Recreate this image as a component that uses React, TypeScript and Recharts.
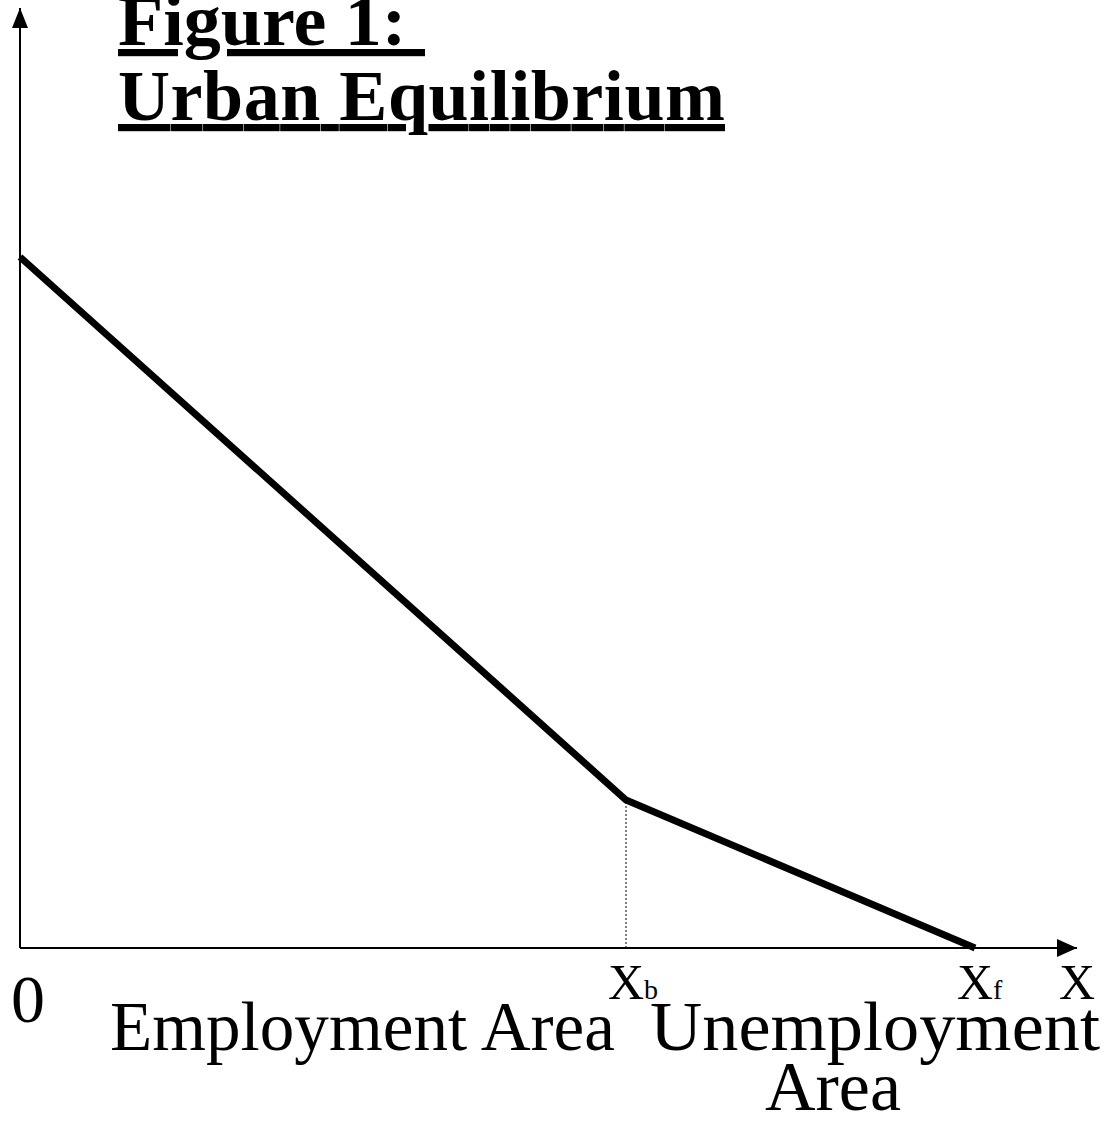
import React from "react";
import {
  LineChart,
  Line,
  XAxis,
  YAxis,
  ReferenceLine,
  ReferenceDot,
  Customized,
} from "recharts";

// distance from the centre (x) and the land rent curve (y), arbitrary units
const distances = [0, 606, 955];
const rents = [691, 148, 0];

// axis tick labels: boundary of employment area and city fringe
const tickValues = [0, 606, 955, 1057];
const tickMain = ["0", "X", "X", "X"];
const tickSub = ["", "b", "f", ""];

const X_MAX = 1057;
const Y_MAX = 940;

const data = distances.map((d, i) => ({ x: d, rent: rents[i] }));

const SERIF = "'Liberation Serif', 'Times New Roman', serif";

const AxisTick = (props: any) => {
  const { x, payload } = props;
  const i = tickValues.indexOf(payload.value);
  if (i === 0) {
    return (
      <text x={x + 8} y={1022} textAnchor="middle" fontFamily={SERIF} fontSize={68} fill="#000">
        {tickMain[i]}
      </text>
    );
  }
  return (
    <text x={x - 18} y={999} fontFamily={SERIF} fontSize={50} fill="#000">
      {tickMain[i]}
      {tickSub[i] && <tspan fontSize={28}>{tickSub[i]}</tspan>}
    </text>
  );
};

const ArrowRight = (props: any) => {
  const { cx, cy } = props;
  return <path d={`M${cx},${cy} L${cx - 20},${cy - 9} L${cx - 20},${cy + 9} Z`} fill="#000" />;
};

const ArrowUp = (props: any) => {
  const { cx, cy } = props;
  return <path d={`M${cx},${cy} L${cx - 8},${cy + 20} L${cx + 8},${cy + 20} Z`} fill="#000" />;
};

const Texts = () => (
  <g fontFamily={SERIF} fill="#000">
    <text
      x={118}
      y={45}
      fontSize={72}
      fontWeight="bold"
      textDecoration="underline"
      textLength={307}
      lengthAdjust="spacingAndGlyphs"
    >
      Figure 1:&#160;
    </text>
    <text
      x={118}
      y={120}
      fontSize={72}
      fontWeight="bold"
      textDecoration="underline"
      textLength={607}
      lengthAdjust="spacing"
    >
      Urban Equilibrium
    </text>
    <text x={110} y={1050} fontSize={70} textLength={505} lengthAdjust="spacingAndGlyphs">
      Employment Area
    </text>
    <text x={650} y={1050} fontSize={70} textLength={450} lengthAdjust="spacingAndGlyphs">
      Unemployment
    </text>
    <text x={833} y={1110} fontSize={70} textAnchor="middle">
      Area
    </text>
  </g>
);

export default function App() {
  return (
    <div style={{ position: "absolute", left: 0, top: 0, background: "#fff" }}>
      <LineChart
        width={1117}
        height={1139}
        data={data}
        margin={{ top: 8, right: 40, left: 19, bottom: 190 }}
      >
        <XAxis
          dataKey="x"
          type="number"
          domain={[0, X_MAX]}
          ticks={tickValues}
          height={1}
          axisLine={{ stroke: "#000", strokeWidth: 2 }}
          tickLine={false}
          tick={<AxisTick />}
          interval={0}
        />
        <YAxis
          type="number"
          domain={[0, Y_MAX]}
          width={1}
          axisLine={{ stroke: "#000", strokeWidth: 2 }}
          tickLine={false}
          tick={false}
        />
        <ReferenceLine
          segment={[
            { x: distances[1], y: 0 },
            { x: distances[1], y: rents[1] },
          ]}
          stroke="#000"
          strokeWidth={1}
          strokeDasharray="2 2"
        />
        <Line
          dataKey="rent"
          stroke="#000"
          strokeWidth={7}
          dot={false}
          isAnimationActive={false}
          strokeLinejoin="miter"
        />
        <ReferenceDot x={X_MAX} y={0} r={1} shape={<ArrowRight />} />
        <ReferenceDot x={0} y={Y_MAX} r={1} shape={<ArrowUp />} />
        <Customized component={<Texts />} />
      </LineChart>
    </div>
  );
}
